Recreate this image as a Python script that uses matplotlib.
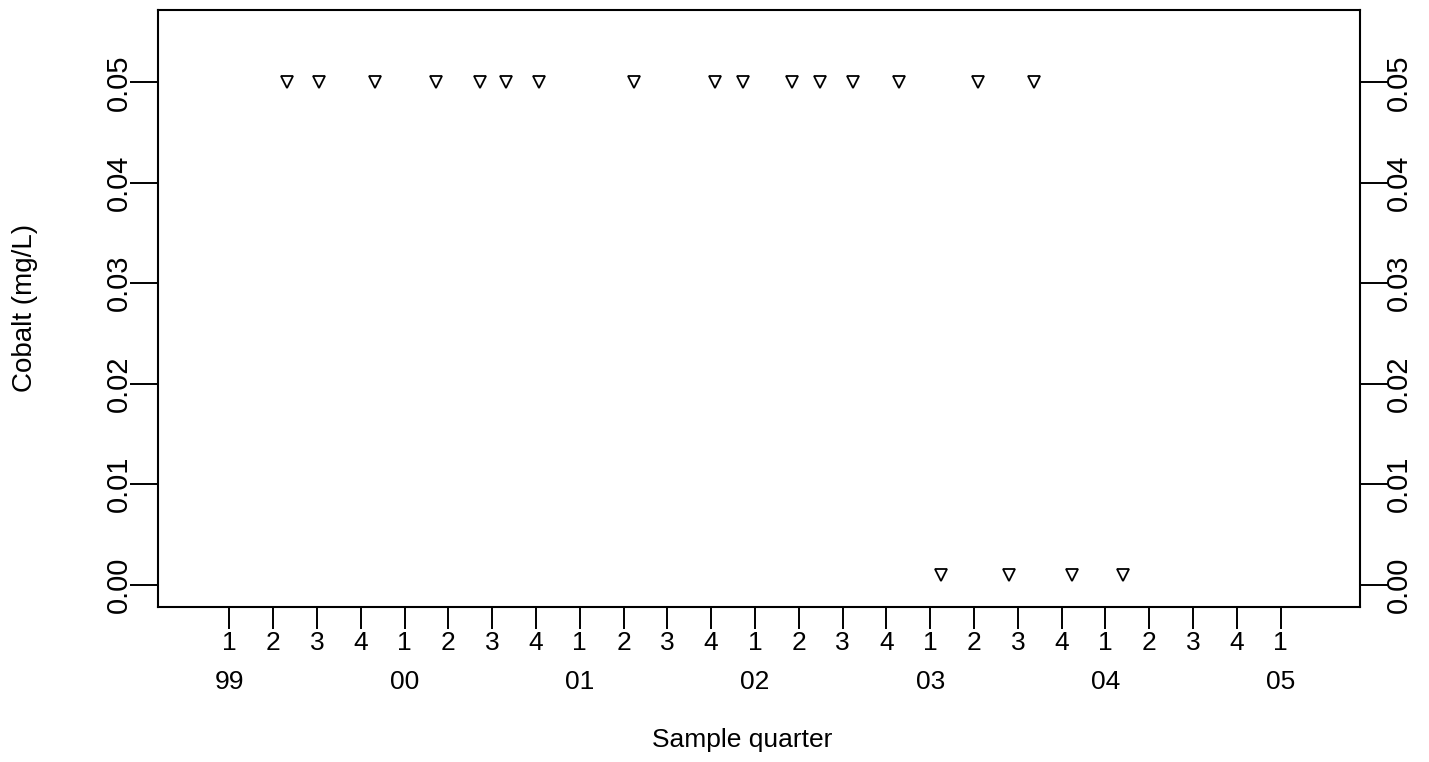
from matplotlib import pyplot as plt
import numpy as np

plt.rcParams['font.family'] = ['Liberation Sans', 'DejaVu Sans']

# sample dates (decimal years) and cobalt results, all non-detects
dates_high = [1999.33, 1999.51, 1999.83, 2000.18, 2000.43, 2000.58, 2000.77, 2001.31,
              2001.77, 2001.93, 2002.21, 2002.37, 2002.56, 2002.82, 2003.27, 2003.59]
cobalt_high = [0.05] * 16
dates_low = [2003.06, 2003.45, 2003.81, 2004.10]
cobalt_low = [0.001] * 4

quarter_ticks = [1999 + i / 4 for i in range(25)]
quarter_labels = [str(i % 4 + 1) for i in range(25)]
year_ticks = [1999, 2000, 2001, 2002, 2003, 2004, 2005]
year_labels = ['99', '00', '01', '02', '03', '04', '05']
y_ticks = [0.0, 0.01, 0.02, 0.03, 0.04, 0.05]
y_labels = ['0.00', '0.01', '0.02', '0.03', '0.04', '0.05']

fig = plt.figure(figsize=(14.29, 7.62), dpi=100)
ax = fig.add_axes([0.1108, 0.2038, 0.9517 - 0.1108, 0.9869 - 0.2038])

ax.plot(dates_high + dates_low, cobalt_high + cobalt_low, ls='none', marker='v',
        markersize=8, markerfacecolor='white', markeredgecolor='black', markeredgewidth=1.3)

ax.set_xlim(1998.595, 2005.4525)
ax.set_ylim(-0.0022, 0.0572)

ax.set_xticks(quarter_ticks)
ax.set_xticklabels(quarter_labels)
ax.set_yticks(y_ticks)
ax.set_yticklabels(y_labels)
ax.tick_params(axis='x', length=16, width=1.4, pad=1.5, labelsize=19)
ax.tick_params(axis='y', length=20, width=1.4, pad=-2, labelsize=21, labelrotation=90,
               right=True, labelright=True)
for lab in ax.get_yticklabels():
    lab.set_va('center')

for sp in ax.spines.values():
    sp.set_linewidth(1.5)

trans = ax.get_xaxis_transform()
for x, lab in zip(year_ticks, year_labels):
    ax.text(x, -0.126, lab, transform=trans, ha='center', va='center', fontsize=19)

fig.text(742 / 1429, 1 - 740 / 762, 'Sample quarter', ha='center', va='center', fontsize=19)
fig.text(25 / 1429, 1 - 308 / 762, 'Cobalt (mg/L)', ha='center', va='center',
         rotation=90, fontsize=20)

plt.savefig('out.png', dpi=100)
